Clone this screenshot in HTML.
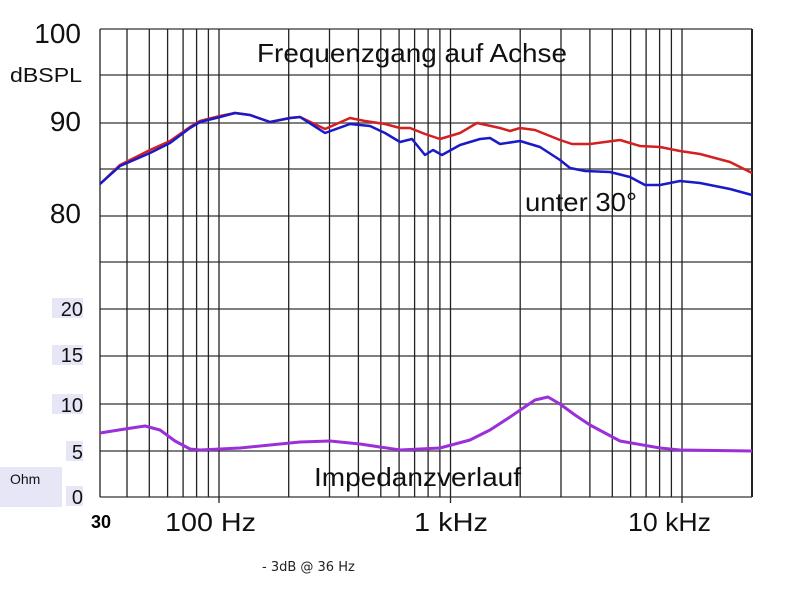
<!DOCTYPE html>
<html><head><meta charset="utf-8"><style>
html,body{margin:0;padding:0;background:#fff;}
svg{display:block;font-family:"Liberation Sans",sans-serif;}
</style></head><body>
<svg width="794" height="595" viewBox="0 0 794 595" xmlns="http://www.w3.org/2000/svg">
<rect width="794" height="595" fill="#fff"/>
<g stroke="#555" stroke-width="1.5">
<line x1="100" y1="29" x2="752" y2="29"/>
<line x1="100" y1="75" x2="752" y2="75"/>
<line x1="100" y1="123" x2="752" y2="123"/>
<line x1="100" y1="169" x2="752" y2="169"/>
<line x1="100" y1="216" x2="752" y2="216"/>
<line x1="100" y1="262" x2="752" y2="262"/>
<line x1="100" y1="309" x2="752" y2="309"/>
<line x1="100" y1="356" x2="752" y2="356"/>
<line x1="100" y1="404" x2="752" y2="404"/>
<line x1="100" y1="451" x2="752" y2="451"/>
<line x1="100" y1="497" x2="752" y2="497"/>
</g>
<g stroke="#222" stroke-width="1.3">
<line x1="100" y1="29" x2="100" y2="497"/>
<line x1="127" y1="29" x2="127" y2="497"/>
<line x1="149.3" y1="29" x2="149.3" y2="497"/>
<line x1="167.6" y1="29" x2="167.6" y2="497"/>
<line x1="183.1" y1="29" x2="183.1" y2="497"/>
<line x1="196.6" y1="29" x2="196.6" y2="497"/>
<line x1="208.4" y1="29" x2="208.4" y2="497"/>
<line x1="219" y1="29" x2="219" y2="503"/>
<line x1="288.7" y1="29" x2="288.7" y2="497"/>
<line x1="329.5" y1="29" x2="329.5" y2="497"/>
<line x1="358.4" y1="29" x2="358.4" y2="497"/>
<line x1="380.8" y1="29" x2="380.8" y2="497"/>
<line x1="399.1" y1="29" x2="399.1" y2="497"/>
<line x1="414.6" y1="29" x2="414.6" y2="497"/>
<line x1="428.1" y1="29" x2="428.1" y2="497"/>
<line x1="439.9" y1="29" x2="439.9" y2="497"/>
<line x1="450.5" y1="29" x2="450.5" y2="503"/>
<line x1="520.2" y1="29" x2="520.2" y2="497"/>
<line x1="561" y1="29" x2="561" y2="497"/>
<line x1="589.9" y1="29" x2="589.9" y2="497"/>
<line x1="612.3" y1="29" x2="612.3" y2="497"/>
<line x1="630.6" y1="29" x2="630.6" y2="497"/>
<line x1="646.1" y1="29" x2="646.1" y2="497"/>
<line x1="659.6" y1="29" x2="659.6" y2="497"/>
<line x1="671.4" y1="29" x2="671.4" y2="497"/>
<line x1="682" y1="29" x2="682" y2="503"/>
<line x1="752" y1="29" x2="752" y2="497" stroke-width="2"/>
</g>
<g fill="none" stroke-width="2.5" stroke-linejoin="round">
<polyline stroke="#d42020" points="100,184 120,165 150,150 170,141 190,127 200,121 220,116 235,113 250,115 270,122 290,118 300,117 325,129 350,118 365,121 385,124 400,128 410,128 425,134 440,139 460,133 477,123 500,128 510,131 520,128 535,130 560,140 572,144 590,144 620,140 640,146 660,147 680,151 700,154 730,162 752,173"/>
<polyline stroke="#1a1ac8" points="100,184 120,166 150,153 170,143 190,128 200,122 220,117 235,113 250,115 270,122 290,118 300,117 325,133 350,124 370,126 385,133 400,142 412,139 425,155 433,150 442,155 460,145 480,139 490,138 500,144 520,141 540,147 560,160 570,168 585,171 610,172 630,177 645,185 660,185 680,181 700,183 730,189 752,195"/>
<polyline stroke="#9a30d8" stroke-width="3" points="100,433 125,429 145,426 160,430 175,441 190,449 200,450 240,448 300,442 330,441 360,444 400,450 440,448 470,440 490,430 510,417 535,400 548,397 560,404 575,415 590,425 620,441 660,448 680,450 752,451"/>
</g>
<g font-size="28" fill="#111" text-anchor="end">
<text x="81" y="43">100</text>
<text x="81" y="131">90</text>
<text x="81" y="223">80</text>
</g>
<text x="10" y="82" font-size="20" fill="#111" textLength="72" lengthAdjust="spacingAndGlyphs">dBSPL</text>
<g fill="#e6e6f7">
<rect x="52" y="298" width="31" height="20"/>
<rect x="52" y="345" width="31" height="20"/>
<rect x="52" y="394" width="31" height="20"/>
<rect x="66" y="441" width="17" height="20"/>
<rect x="66" y="486" width="17" height="20"/>
<rect x="0" y="467" width="62" height="40"/>
</g>
<g font-size="20" fill="#111" text-anchor="end">
<text x="83" y="316">20</text>
<text x="83" y="362">15</text>
<text x="83" y="412">10</text>
<text x="83" y="459">5</text>
<text x="83" y="504">0</text>
</g>
<text x="10" y="484" font-size="14" fill="#111">Ohm</text>
<text x="91" y="528" font-size="18" font-weight="bold" fill="#000">30</text>
<g font-size="26" fill="#111">
<text x="165" y="531" textLength="91" lengthAdjust="spacingAndGlyphs">100 Hz</text>
<text x="414" y="531" textLength="74" lengthAdjust="spacingAndGlyphs">1 kHz</text>
<text x="628" y="531" textLength="83" lengthAdjust="spacingAndGlyphs">10 kHz</text>
<text x="257" y="62" textLength="310" lengthAdjust="spacingAndGlyphs">Frequenzgang auf Achse</text>
<text x="314" y="486" textLength="207" lengthAdjust="spacingAndGlyphs">Impedanzverlauf</text>
<text x="525" y="211" textLength="112" lengthAdjust="spacingAndGlyphs">unter 30°</text>
</g>
<text x="262" y="571" font-size="13" fill="#222" font-family="DejaVu Sans, sans-serif">- 3dB @ 36 Hz</text>
</svg>
</body></html>
